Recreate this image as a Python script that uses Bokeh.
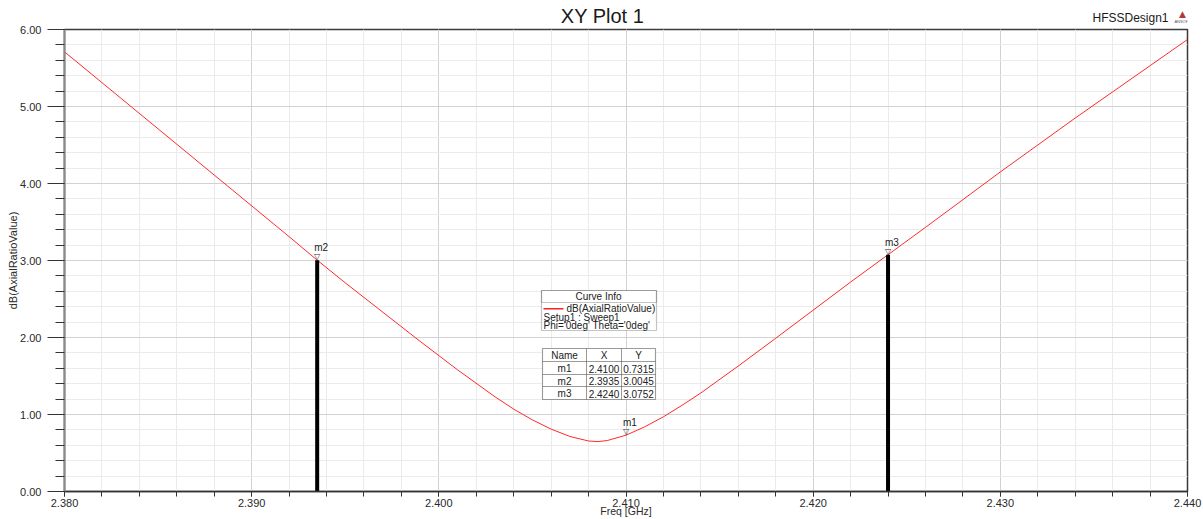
import math
from bokeh.plotting import figure
from bokeh.layouts import column
from bokeh.models import (Range1d, FixedTicker, NumeralTickFormatter, Label, BoxAnnotation)
from bokeh.core.properties import value
from bokeh.embed import file_html
from bokeh.resources import INLINE

# ---------------- data ----------------
freq_ghz = [2.380, 2.383, 2.386, 2.389, 2.392, 2.3935, 2.395, 2.397, 2.399, 2.401,
            2.403, 2.404, 2.405, 2.406, 2.407, 2.408, 2.4085, 2.409, 2.410, 2.411,
            2.412, 2.413, 2.414, 2.416, 2.418, 2.420, 2.422, 2.424, 2.426, 2.428,
            2.430, 2.432, 2.434, 2.436, 2.438, 2.440]
ar_db = [5.71, 5.11, 4.51, 3.91, 3.31, 3.0045, 2.71, 2.33, 1.95, 1.58,
         1.23, 1.07, 0.93, 0.81, 0.715, 0.656, 0.648, 0.662, 0.7315, 0.84,
         0.97, 1.12, 1.28, 1.63, 1.99, 2.355, 2.72, 3.0752, 3.43, 3.79,
         4.15, 4.50, 4.85, 5.19, 5.53, 5.87]

marker_names = ["m1", "m2", "m3"]
marker_x = [2.4100, 2.3935, 2.4240]
marker_y = [0.7315, 3.0045, 3.0752]
line_markers = ["m2", "m3"]   # markers shown with vertical bars

x_major = [2.380, 2.390, 2.400, 2.410, 2.420, 2.430, 2.440]
y_major = [0, 1, 2, 3, 4, 5, 6]

title_text = "XY Plot 1"
design_text = "HFSSDesign1"
x_label = "Freq [GHz]"
y_label = "dB(AxialRatioValue)"
curve_name = "dB(AxialRatioValue)"
curve_setup = "Setup1 : Sweep1"
curve_vars = "Phi='0deg' Theta='0deg'"

# ---------------- layout ----------------
W, H = 1203, 519
HEAD = 28          # header strip height
OVL = 5            # main plot overlaps the header strip by this much
L, R, T, B = 64, 1187, 29, 492
FONT = "Liberation Sans"

# header strip (title + design name); its frame is aligned with the main frame
hdr = figure(width=W, height=HEAD, output_backend="svg", toolbar_location=None,
             x_range=Range1d(L, R), y_range=Range1d(HEAD, 0),
             x_axis_type=None, y_axis_type=None, min_border=0, title=None)
hdr.outline_line_color = None
hdr.grid.visible = False
hdr.background_fill_color = "white"
hdr.border_fill_color = "white"
hdr.margin = (0, 0, -OVL, 0)
hdr.text(x=[602], y=[15], text=[title_text], text_font=value(FONT), text_font_size="20px",
         text_align="center", text_baseline="middle", text_color="#1a1a1a")
hdr.text(x=[1168], y=[17], text=[design_text], text_font=value(FONT), text_font_size="12px",
         text_align="right", text_baseline="middle", text_color="#1a1a1a")
hdr.text(x=[1182], y=[18], text=["\u25b2"], text_font=value("DejaVu Sans"), text_font_size="9px",
         text_align="center", text_baseline="bottom", text_color="#b03a3a")
hdr.text(x=[1182], y=[21], text=["ANSOFT"], text_font=value(FONT), text_font_size="4px",
         text_align="center", text_baseline="middle", text_color="#555555")

p = figure(width=W, height=H - HEAD + OVL, output_backend="svg", toolbar_location=None,
           x_range=Range1d(2.38, 2.44), y_range=Range1d(0, 6),
           min_border_left=L, min_border_right=W - R, min_border_top=T - HEAD + OVL,
           min_border_bottom=H - B, title=None)
p.background_fill_color = "white"
p.border_fill_color = "white"
p.border_fill_alpha = 0.0
p.outline_line_color = "#3a3a3a"
p.outline_line_width = 1.5

x_minor = [round(2.380 + 0.002 * i, 3) for i in range(31)]
y_minor = [round(0.2 * i, 1) for i in range(31)]

p.xaxis.ticker = FixedTicker(ticks=x_major, minor_ticks=x_minor)
p.yaxis.ticker = FixedTicker(ticks=y_major, minor_ticks=y_minor)
p.xaxis.formatter = NumeralTickFormatter(format="0.000")
p.yaxis.formatter = NumeralTickFormatter(format="0.00")

for ax in (p.xaxis[0], p.yaxis[0]):
    ax.major_label_text_font = FONT
    ax.major_label_text_font_size = "11px"
    ax.major_label_text_color = "#2a2a2a"
    ax.major_tick_in = 0
    ax.minor_tick_in = 0
    ax.major_tick_line_color = "#333333"
    ax.minor_tick_line_color = "#333333"
    ax.axis_label_text_font = FONT
    ax.axis_label_text_font_style = "normal"
    ax.axis_label_text_color = "#2a2a2a"

p.xaxis.major_tick_out = 5
p.xaxis.minor_tick_out = 5
p.xaxis.major_label_standoff = 2
p.xaxis.axis_line_color = "#333333"
p.xaxis.axis_line_width = 1.5
p.xaxis.axis_label = x_label
p.xaxis.axis_label_text_font_size = "10.5px"
p.xaxis.axis_label_standoff = -5

p.yaxis.major_tick_out = 17
p.yaxis.minor_tick_out = 9
p.yaxis.major_label_standoff = 6
p.yaxis.axis_line_color = "#8a8a8a"
p.yaxis.axis_line_width = 2
p.yaxis.axis_label = y_label
p.yaxis.axis_label_text_font_size = "11px"
p.yaxis.axis_label_standoff = -2

p.xgrid.ticker = FixedTicker(ticks=x_major, minor_ticks=x_minor)
p.ygrid.ticker = FixedTicker(ticks=y_major, minor_ticks=y_minor)
for g in (p.xgrid[0], p.ygrid[0]):
    g.grid_line_color = "#d2d2d2"
    g.grid_line_width = 1
    g.minor_grid_line_color = "#ebebeb"
    g.minor_grid_line_width = 1

# ---------------- curve ----------------
p.line(freq_ghz, ar_db, line_color="#ff2a2a", line_width=1)

# vertical marker bars
bx = [marker_x[i] for i, n in enumerate(marker_names) if n in line_markers]
by = [marker_y[i] for i, n in enumerate(marker_names) if n in line_markers]
p.segment(x0=bx, y0=[0] * len(bx), x1=bx, y1=by, line_color="black", line_width=4)

# marker triangles & names
p.text(marker_x, marker_y, text=["\u25bd"] * len(marker_names), y_offset=1,
       text_font=value("DejaVu Sans"), text_font_size="8px", text_color="#333333",
       text_baseline="bottom", text_align="center")
p.text(marker_x, marker_y, text=marker_names, x_offset=-3, y_offset=-7,
       text_font=value(FONT), text_font_size="10px", text_color="#222222",
       text_baseline="bottom", text_align="left")

# ---------------- helpers for screen placement (relative to plot frame) ----------------
def sx(cx):
    return cx - L

def sy(cy):
    return B - cy

def label(cx, cy, text, size="10px", align="left", baseline="middle", color="#222222"):
    p.add_layout(Label(x=sx(cx), y=sy(cy), x_units="screen", y_units="screen", text=text,
                       text_font=FONT, text_font_size=size, text_align=align,
                       text_baseline=baseline, text_color=color))

def box(x0, y0, x1, y1, lc="#3a3a3a", lw=1.2, fill="white", fa=1.0):
    p.add_layout(BoxAnnotation(left=sx(x0), right=sx(x1), top=sy(y0), bottom=sy(y1),
                               left_units="screen", right_units="screen",
                               top_units="screen", bottom_units="screen",
                               fill_color=fill, fill_alpha=fa, line_color=lc, line_width=lw))

# curve info box
box(541, 291, 656, 331)
box(541, 291, 656, 303, fa=0.0)
label(598, 297, "Curve Info", align="center")
box(543, 308.4, 563, 310, lc=None, lw=0, fill="#ff2020")
label(566, 309, curve_name)
label(543, 318, curve_setup)
label(543, 326, curve_vars)

# marker table
cols = [542, 586, 621, 655]
rows = [349, 362, 375, 387, 400]
box(cols[0], rows[0], cols[-1], rows[-1])
headers = ["Name", "X", "Y"]
for j in range(3):
    for i in range(4):
        box(cols[j], rows[i], cols[j + 1], rows[i + 1], fa=0.0, lw=1)
for j, h in enumerate(headers):
    label((cols[j] + cols[j + 1]) / 2, (rows[0] + rows[1]) / 2 + 0.5, h, align="center")
for i, n in enumerate(marker_names):
    cy = (rows[i + 1] + rows[i + 2]) / 2 + 0.5
    label((cols[0] + cols[1]) / 2, cy, n, align="center")
    label((cols[1] + cols[2]) / 2, cy, f"{marker_x[i]:.4f}", align="center")
    label((cols[2] + cols[3]) / 2, cy, f"{marker_y[i]:.4f}", align="center")

layout = column(hdr, p, spacing=0)
open("out.html", "w").write(file_html(layout, INLINE))
